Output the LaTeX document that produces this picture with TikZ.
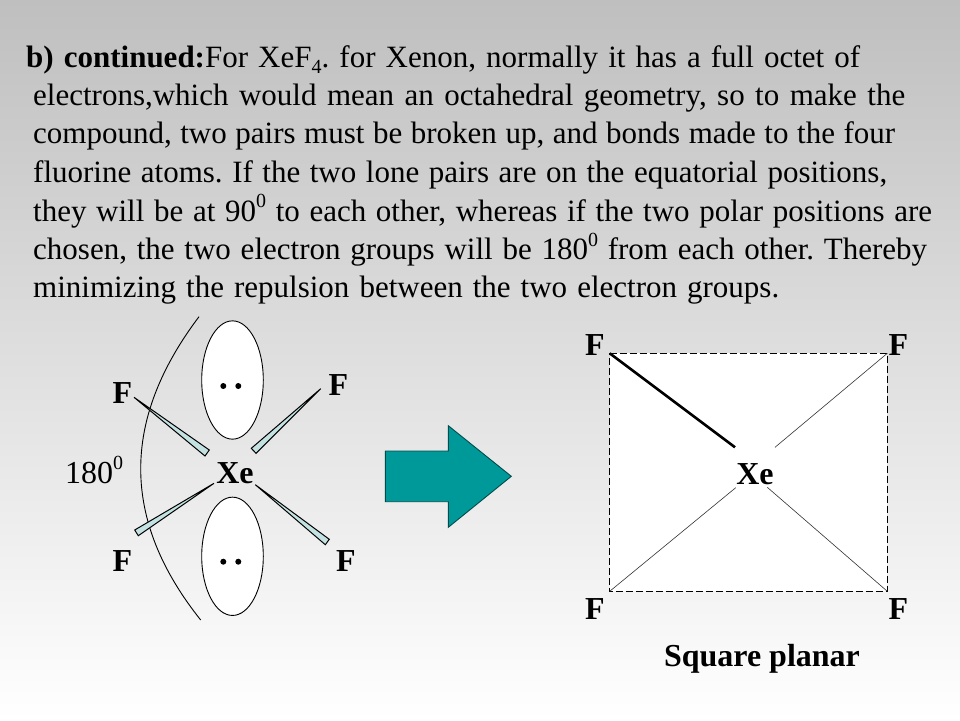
\documentclass[tikz,border=0pt]{standalone}
\usepackage{fontspec}
\usetikzlibrary{shapes.geometric}
\setmainfont{Liberation Serif}
\frenchspacing
\definecolor{wedgefill}{HTML}{C4E2E2}
\definecolor{arrowfill}{HTML}{009999}
\definecolor{arrowline}{HTML}{004C4C}
\definecolor{bgtop}{HTML}{BFBFBF}
\newcommand{\supz}[1]{\raisebox{0.42em}{\fontsize{20}{22}\selectfont #1}}
\newcommand{\subz}[1]{\raisebox{-0.2em}{\fontsize{20}{22}\selectfont #1}}
\newcommand{\tline}[2]{\makebox[#1pt][s]{#2}}
\tikzset{
  para/.style={anchor=base west,inner sep=0pt,yshift=-1pt,font=\fontsize{31}{37}\selectfont},
  atom/.style={anchor=base,inner sep=0pt,yshift=-1.7pt,font=\fontsize{32}{38}\selectfont\bfseries},
  plain/.style={anchor=base,inner sep=0pt,yshift=-1.7pt,font=\fontsize{32}{38}\selectfont},
  wedge/.style={draw=black,fill=wedgefill,line width=1pt,line join=miter},
  lobe/.style={draw=black,fill=white,line width=0.9pt},
  lonedot/.style={circle,fill=black,inner sep=0pt,minimum size=6pt},
  thinbond/.style={draw=black!80,line width=0.6pt},
  thickbond/.style={draw=black,line width=2.6pt},
  edgeline/.style={draw=black,line width=1.1pt,dash pattern=on 7pt off 3pt},
}
\begin{document}
\begin{tikzpicture}[x=1pt,y=-1pt]
\useasboundingbox (0,0) rectangle (960,720);
\shade[top color=bgtop,bottom color=white] (0,0) rectangle (960,720);
% paragraph
\node[para] (l1) at (26,66) {\tline{834}{\textbf{b) continued:}For XeF\subz{4}. for Xenon, normally it has a full octet of}};
\node[para] (l2) at (33,104) {\tline{872}{electrons,which would mean an octahedral geometry, so to make the}};
\node[para] (l3) at (33,142.7) {\tline{862}{compound, two pairs must be broken up, and bonds made to the four}};
\node[para] (l4) at (33,181.7) {\tline{854}{fluorine atoms. If the two lone pairs are on the equatorial positions,}};
\node[para] (l5) at (33,220) {\tline{899}{they will be at 90\supz{0} to each other, whereas if the two polar positions are}};
\node[para] (l6) at (33,258.3) {\tline{894}{chosen, the two electron groups will be 180\supz{0} from each other. Thereby}};
\node[para] (l7) at (33,296) {\tline{746}{minimizing the repulsion between the two electron groups.}};
% left molecule
\coordinate (arcA) at (199,316.7);
\coordinate (arcB) at (200.7,620);
\draw[black,line width=0.9pt] (arcA) .. controls (121,420) and (121,520) .. (arcB);
\node[lobe,ellipse,minimum width=61.6pt,minimum height=118.3pt,inner sep=0pt] (lobeT) at (232.5,380) {};
\node[lobe,ellipse,minimum width=61.6pt,minimum height=118.3pt,inner sep=0pt] (lobeB) at (232.5,556.3) {};
\node[lonedot] (d1) at (223.3,386) {};
\node[lonedot] (d2) at (238.3,386) {};
\node[lonedot] (d3) at (223.3,561.7) {};
\node[lonedot] (d4) at (238.3,561.7) {};
\node[atom] (xeL) at (235,481.7) {Xe};
\node[plain] (ang) at (94,481.7) {180\supz{0}};
\node[atom] (fa) at (122.3,401.7) {F};
\node[atom] (fb) at (338.3,394) {F};
\node[atom] (fc) at (122.3,569.3) {F};
\node[atom] (fd) at (346,569.3) {F};
\coordinate (wa1) at (134,397.3); \coordinate (wa2) at (209.3,450); \coordinate (wa3) at (205,456);
\coordinate (wb1) at (320.7,388.7); \coordinate (wb2) at (251.3,448.3); \coordinate (wb3) at (256,453.3);
\coordinate (wc1) at (214,483.3); \coordinate (wc2) at (134.7,530); \coordinate (wc3) at (138.3,535.7);
\coordinate (wd1) at (255.3,484.7); \coordinate (wd2) at (329.3,539.3); \coordinate (wd3) at (325.3,544.7);
\draw[wedge] (wa1) -- (wa2) -- (wa3) -- cycle;
\draw[wedge] (wb1) -- (wb2) -- (wb3) -- cycle;
\draw[wedge] (wc1) -- (wc2) -- (wc3) -- cycle;
\draw[wedge] (wd1) -- (wd2) -- (wd3) -- cycle;
% block arrow
\draw[fill=arrowfill,draw=arrowline,line width=0.9pt,line join=miter]
  (385.3,451) -- (448.3,451) -- (448.3,425.7) -- (511.3,476.3) -- (448.3,527.3) -- (448.3,501.7) -- (385.3,501.7) -- cycle;
% square planar
\coordinate (c1) at (609.7,353.3);
\coordinate (c2) at (887.3,353.3);
\coordinate (c3) at (887.3,591.3);
\coordinate (c4) at (609.7,591.3);
\fill[white] (c1) rectangle (c3);
\draw[edgeline] (c1) -- (c2) -- (c3) -- (c4) -- cycle;
\node[atom] (xeR) at (755,482.3) {Xe};
\node[atom] (f1) at (595,354) {F};
\node[atom] (f2) at (898.3,354) {F};
\node[atom] (f3) at (595,617.7) {F};
\node[atom] (f4) at (898.3,617.7) {F};
\coordinate (b1) at (735,447.3);
\coordinate (b2) at (775,447.3);
\coordinate (b3) at (767.3,487.3);
\coordinate (b4) at (735.7,487.7);
\draw[thickbond] (c1) -- (b1);
\draw[thinbond] (c2) -- (b2);
\draw[thinbond] (c3) -- (b3);
\draw[thinbond] (c4) -- (b4);
\node[atom] (cap) at (762,665) {Square planar};
\end{tikzpicture}
\end{document}
